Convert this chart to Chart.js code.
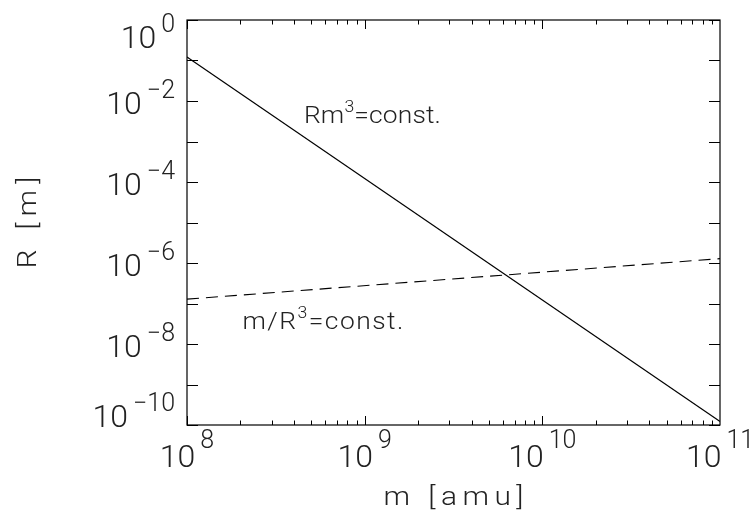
<!DOCTYPE html>
<html>
<head>
<meta charset="utf-8">
<script src="https://cdn.jsdelivr.net/npm/chart.js@4.4.0/dist/chart.umd.min.js"></script>
<style>
html,body{margin:0;padding:0;background:#fff;}
#wrap{width:754px;height:514px;position:relative;}
</style>
</head>
<body>
<div id="wrap"><canvas id="c"></canvas></div>
<script>
// ---- data ----
const massRange = [1e8, 1e11];            // m [amu]
const rSolid = [0.122, 1.22e-10];         // Rm^3 = const.
const rDashed = [1.28e-7, 1.28e-6];       // m/R^3 = const.
const xTickExps = [8, 9, 10, 11];
const yTickExps = [0, -2, -4, -6, -8, -10];
const yAxisMin = 1e-10, yAxisMax = 1e0;
const xAxisMin = 1e8, xAxisMax = 1e11;
const xTitle = "m [amu]";
const yTitle = "R [m]";
const annotations = [
  {base: "Rm", sup: "3", rest: "=const.", m: 4.55e8, r: 2.9e-3},
  {base: "m/R", sup: "3", rest: "=const.", m: 2.05e8, r: 2.35e-8}
];

const FONT = "Roboto, 'Liberation Sans', sans-serif";
const TXT = "#222";

function expText(exp) {
  return exp < 0 ? "\u2212" + Math.abs(exp) : String(exp);
}

// draw a sequence of [text, font, dy] runs, horizontally stretched and spread to a target width
function drawRuns(ctx, runs, x, y, targetW, sx) {
  const chars = [];
  runs.forEach(r => { for (const ch of r[0]) chars.push([ch, r[1], r[2] || 0]); });
  let nat = 0;
  const ws = chars.map(c => { ctx.font = c[1]; const w = ctx.measureText(c[0]).width * sx; nat += w; return w; });
  const sp = chars.length > 1 ? (targetW - nat) / (chars.length - 1) : 0;
  let cx = x;
  ctx.textAlign = "left";
  chars.forEach((c, i) => {
    ctx.font = c[1];
    ctx.save();
    ctx.translate(cx, y - c[2]);
    ctx.scale(sx, 1);
    ctx.fillText(c[0], 0, 0);
    ctx.restore();
    cx += ws[i] + sp;
  });
}

const frame = {
  id: "frame",
  afterDraw(chart) {
    const ctx = chart.ctx;
    const a = chart.chartArea;
    const xs = chart.scales.x, ys = chart.scales.y;
    ctx.save();
    ctx.strokeStyle = "#000";
    ctx.lineWidth = 1.2;
    ctx.strokeRect(a.left, a.top, a.right - a.left, a.bottom - a.top);
    ctx.lineWidth = 1;
    ctx.beginPath();
    for (let e = xTickExps[0]; e < xTickExps[xTickExps.length - 1]; e++) {
      for (let k = 1; k <= 9; k++) {
        const v = k * Math.pow(10, e);
        const px = Math.round(xs.getPixelForValue(v)) + 0.5;
        const len = k === 1 ? 9 : 4.5;
        ctx.moveTo(px, a.bottom); ctx.lineTo(px, a.bottom - len);
        ctx.moveTo(px, a.top); ctx.lineTo(px, a.top + len);
      }
    }
    for (let e = 0; e >= -10; e--) {
      const py = Math.round(ys.getPixelForValue(Math.pow(10, e))) + 0.5;
      ctx.moveTo(a.left, py); ctx.lineTo(a.left + 11, py);
      ctx.moveTo(a.right, py); ctx.lineTo(a.right - 11, py);
    }
    ctx.stroke();

    ctx.fillStyle = TXT;
    ctx.textBaseline = "alphabetic";
    const baseF = "300 32px " + FONT, supF = "300 25px " + FONT;
    yTickExps.forEach(e => {
      const py = ys.getPixelForValue(Math.pow(10, e));
      const bl = Math.min(Math.max(py + 13, 48), 427);
      const s = expText(e);
      ctx.font = supF; const ws = ctx.measureText(s).width;
      ctx.font = baseF; const wb = ctx.measureText("10").width;
      const right = 175;
      ctx.textAlign = "left";
      ctx.font = baseF; ctx.fillText("10", right - ws - 5 - wb, bl);
      ctx.font = supF; ctx.fillText(s, right - ws, bl - 16);
    });
    xTickExps.forEach(e => {
      const px = xs.getPixelForValue(Math.pow(10, e));
      const s = expText(e);
      ctx.font = supF; const ws = ctx.measureText(s).width;
      ctx.font = baseF; const wb = ctx.measureText("10").width;
      const tot = wb + 5 + ws;
      const left = px - tot / 2;
      ctx.textAlign = "left";
      ctx.font = baseF; ctx.fillText("10", left, 467);
      ctx.font = supF; ctx.fillText(s, left + wb + 5, 448);
    });
    // axis titles
    const titleF = "300 26px " + FONT;
    const xtW = 140;
    drawRuns(ctx, [[xTitle, titleF]], (a.left + a.right) / 2 - xtW / 2, 505, xtW, 1.15);
    ctx.save();
    ctx.translate(36, (a.top + a.bottom) / 2);
    ctx.rotate(-Math.PI / 2);
    const ytW = 92;
    drawRuns(ctx, [[yTitle, titleF]], -ytW / 2, 0, ytW, 1.15);
    ctx.restore();
    // annotations
    const annF = "300 24px " + FONT, annS = "300 16px " + FONT;
    const annW = [137, 161];
    annotations.forEach((an, i) => {
      const x0 = xs.getPixelForValue(an.m);
      const y0 = ys.getPixelForValue(an.r);
      drawRuns(ctx, [[an.base, annF], [an.sup, annS, 11], [an.rest, annF]], x0, y0, annW[i], 1.1);
    });
    ctx.restore();
  }
};

new Chart(document.getElementById("c"), {
  type: "scatter",
  data: {
    datasets: [
      {
        label: "Rm^3=const.",
        data: massRange.map((m, i) => ({x: m, y: rSolid[i]})),
        showLine: true, borderColor: "#000", borderWidth: 1.1,
        pointRadius: 0, fill: false
      },
      {
        label: "m/R^3=const.",
        data: massRange.map((m, i) => ({x: m, y: rDashed[i]})),
        showLine: true, borderColor: "#000", borderWidth: 1.1,
        borderDash: [12, 7], pointRadius: 0, fill: false
      }
    ]
  },
  options: {
    responsive: true,
    maintainAspectRatio: false,
    animation: false,
    layout: {padding: {left: 187, top: 20, right: 34, bottom: 89}},
    plugins: {legend: {display: false}, tooltip: {enabled: false}},
    scales: {
      x: {type: "logarithmic", min: xAxisMin, max: xAxisMax, display: false},
      y: {type: "logarithmic", min: yAxisMin, max: yAxisMax, display: false}
    }
  },
  plugins: [frame]
});
</script>
</body>
</html>
